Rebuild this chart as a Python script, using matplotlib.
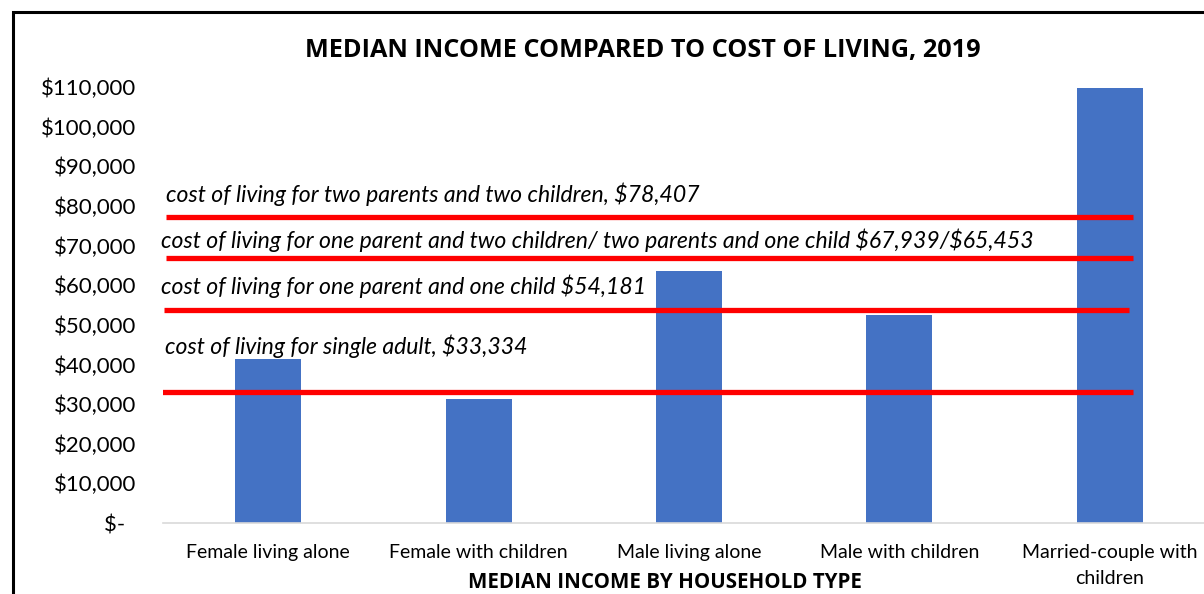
import matplotlib.pyplot as plt
from matplotlib.patches import Rectangle

# household types and median income
categories = ["Female living alone", "Female with children", "Male living alone",
              "Male with children", "Married-couple with\nchildren"]
income = [41400, 31200, 63600, 52500, 109700]

# cost of living reference lines (drawn as shapes in the original)
line_levels = [33000, 53700, 66800, 77200]
line_starts = [-0.527, -0.494, -0.485, -0.485]
line_ends = [4.11, 4.09, 4.11, 4.11]

notes = ["cost of living for single adult, $33,334",
         "cost of living for one parent and one child $54,181",
         "cost of living for one parent and two children/ two parents and one child $67,939/$65,453",
         "cost of living for two parents and two children, $78,407"]
note_x = [-0.489, -0.508, -0.508, -0.485]
note_y = [44600, 59800, 71400, 83000]

yticks = list(range(0, 110001, 10000))
ytick_labels = ["$-  "] + ["${:,}".format(v) for v in yticks[1:]]

font = "Lato"
bold_font = "Open Sans"
plt.rcParams['font.family'] = [font, 'DejaVu Sans']

fig = plt.figure(figsize=(12.04, 5.94), dpi=100)
ax = fig.add_axes([163 / 1204, 1 - 523 / 594, 1052 / 1204, 436 / 594])

x = list(range(len(categories)))
ax.bar(x, income, width=0.313, color="#4472C4", zorder=2)

for lv, x0, x1 in zip(line_levels, line_starts, line_ends):
    ax.plot([x0, x1], [lv, lv], color="#FF0000", linewidth=3.8, solid_capstyle="butt", zorder=3)

for t, tx, ty in zip(notes, note_x, note_y):
    ax.text(tx, ty, t, fontsize=16.6, style="italic", ha="left", va="center",
            parse_math=False, zorder=4)

ax.set_xlim(-0.5, 4.5)
ax.set_ylim(0, 110000)
ax.set_yticks(yticks)
ax.set_yticklabels(ytick_labels, fontsize=16)
ax.set_xticks(x)
ax.set_xticklabels(categories, fontsize=14, linespacing=1.65)
ax.tick_params(axis="y", length=0, pad=19)
ax.tick_params(axis="x", length=0, pad=15)
for s in ["top", "right", "left"]:
    ax.spines[s].set_visible(False)
ax.spines["bottom"].set_color("#D9D9D9")
ax.spines["bottom"].set_linewidth(1.2)

fig.text(643 / 1204, 1 - 50 / 594, "MEDIAN INCOME COMPARED TO COST OF LIVING, 2019",
         fontsize=18.2, fontweight="bold", family=[bold_font, 'DejaVu Sans'],
         ha="center", va="center")
fig.text(665 / 1204, 1 - 583 / 594, "MEDIAN INCOME BY HOUSEHOLD TYPE",
         fontsize=14.8, fontweight="bold", family=[bold_font, 'DejaVu Sans'],
         ha="center", va="center")

# outer chart border (cropped at right and bottom)
fig.patches.append(Rectangle((12.5 / 1204, -0.05), 1.1, 1 - 11.5 / 594 + 0.05,
                             transform=fig.transFigure, fill=False,
                             edgecolor="black", linewidth=2.2))

fig.savefig("out.png", dpi=100)
